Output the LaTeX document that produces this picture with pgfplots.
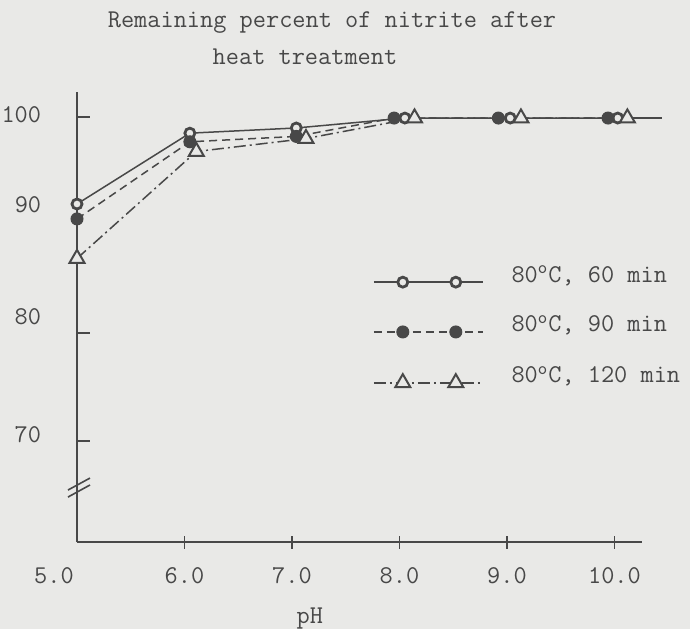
\documentclass[border=0pt]{standalone}
\usepackage{fontspec}
\usepackage{pgfplots}
\pgfplotsset{compat=1.18}
\definecolor{bg}{RGB}{233,233,231}
\definecolor{ink}{RGB}{72,72,72}
\newcommand{\tw}{\fontsize{12.8}{18.5}\selectfont\ttfamily\addfontfeatures{FakeBold=1.2}}
\tikzset{
 l60/.style={ink, line width=0.75pt, solid},
 l90/.style={ink, line width=0.75pt, dash pattern=on 4pt off 2.5pt},
 l120/.style={ink, line width=0.75pt, dash pattern=on 6pt off 2pt on 1pt off 2pt},
}
\pgfplotsset{
 leg60/.style={legend image code/.code={\draw[l60] (0pt,0pt)--(54.5pt,0pt); \draw[##1] plot coordinates {(14.5pt,0pt) (41pt,0pt)};}},
 leg90/.style={legend image code/.code={\draw[l90] (0pt,0pt)--(54.5pt,0pt); \draw[##1] plot coordinates {(14.5pt,0pt) (41pt,0pt)};}},
 leg120/.style={legend image code/.code={\draw[l120] (0pt,0pt)--(54.5pt,0pt); \draw[##1] plot coordinates {(14.5pt,0pt) (41pt,0pt)};}},
}
\begin{document}
\begin{tikzpicture}
\path[use as bounding box, fill=bg] (0,0) rectangle (345pt,314.5pt);
\begin{axis}[
 at={(38.5pt,43.5pt)}, anchor=south west,
 scale only axis, width=282.5pt, height=225pt,
 xmin=5, xmax=10.256, ymin=60.65, ymax=102.31,
 axis x line=bottom, axis y line=left,
 axis line style={-, ink, line width=0.9pt},
 clip=false,
 tick align=center, major tick length=6.5pt,
 tick style={ink, line width=0.9pt},
 ytick style={xshift=3pt},
 xtick={6,7,8,9,10},
 xticklabels={6.0,7.0,8.0,9.0,10.0},
 extra x ticks={5}, extra x tick labels={5.0},
 extra x tick style={tick style={draw=none}, xticklabel style={xshift=-11.5pt}},
 ytick={70,80,100},
 yticklabels={\raisebox{3pt}{70},\raisebox{8pt}{80},\raisebox{1pt}{100}},
 extra y ticks={90}, extra y tick labels={\raisebox{10pt}{90}},
 extra y tick style={tick style={draw=none}},
 xticklabel style={font=\tw, text=ink, anchor=base, yshift=-17.5pt, inner sep=0pt},
 yticklabel style={font=\tw, text=ink, anchor=east, xshift=-14.5pt, inner sep=0pt, text height=7.8pt, text depth=0pt},
 title={Remaining percent of nitrite after\\heat treatment\hspace*{27pt}},
 every axis title/.style={at={(0.5,1)}, anchor=south, yshift=13.5pt, xshift=-13.75pt, inner sep=0pt, align=center, font=\tw, text=ink},
 xlabel={pH},
 every axis x label/.style={at={(axis description cs:0.412,0)}, anchor=base, yshift=-40.5pt, inner sep=0pt, font=\tw, text=ink},
 legend cell align=left,
 legend style={draw=none, fill=none, inner sep=0pt, outer sep=0pt, at={(0.524,0.613)}, anchor=north west, row sep=14.4pt, column sep=14pt, font=\tw, text=ink, cells={anchor=base west}, nodes={inner sep=0pt, text height=8pt, text depth=2pt}},
]
% connecting lines first
\addplot[l60, forget plot] coordinates {(5.0,91.94) (6.05,98.5) (7.04,98.98) (8.05,99.9) (9.03,99.9) (10.03,99.9)};
\addplot[l90, forget plot] coordinates {(5.0,90.56) (6.05,97.7) (7.04,98.2) (7.95,99.9) (8.92,99.9) (9.94,99.9)};
\addplot[l120, forget plot] coordinates {(5.0,86.9) (6.11,96.8) (7.13,98.0) (8.14,99.9) (9.13,99.9) (10.12,99.9)};
\addplot[l60, forget plot] coordinates {(10.12,99.9) (10.44,99.9)};
% markers
\addplot[only marks, ink, mark=*, mark size=2.5pt, mark options={fill=bg, line width=1.4pt, solid}, leg60]
 coordinates {(5.0,91.94) (6.05,98.5) (7.04,98.98) (8.05,99.9) (9.03,99.9) (10.03,99.9)};
\addlegendentry{80\textsuperscript{o}C, 60 min}
\addplot[only marks, ink, mark=*, mark size=3pt, mark options={fill=ink, line width=0.5pt, solid}, leg90]
 coordinates {(5.0,90.56) (6.05,97.7) (7.04,98.2) (7.95,99.9) (8.92,99.9) (9.94,99.9)};
\addlegendentry{80\textsuperscript{o}C, 90 min}
\addplot[only marks, ink, mark=triangle*, mark size=4.3pt, mark options={fill=bg, line width=1pt, solid}, leg120]
 coordinates {(5.0,86.9) (6.11,96.8) (7.13,98.0) (8.14,99.9) (9.13,99.9) (10.12,99.9)};
\addlegendentry{80\textsuperscript{o}C, 120 min}
% axis break
\draw[ink, line width=0.8pt] (axis cs:4.916,65.46) -- (axis cs:5.121,66.57);
\draw[ink, line width=0.8pt] (axis cs:4.916,64.81) -- (axis cs:5.121,65.93);
\end{axis}
\end{tikzpicture}
\end{document}
